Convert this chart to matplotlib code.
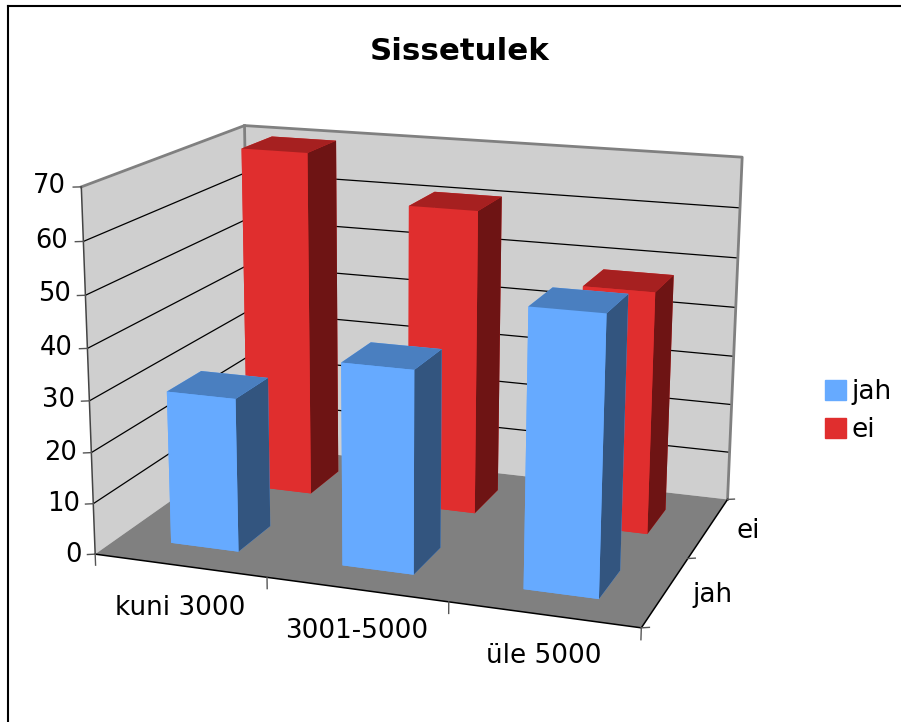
import numpy as np
import matplotlib
matplotlib.use("Agg")
import matplotlib.pyplot as plt
from matplotlib.patches import Patch
from mpl_toolkits.mplot3d.art3d import Poly3DCollection

categories = ["kuni 3000", "3001-5000", "üle 5000"]
series = ["jah", "ei"]
jah = [30, 39, 52.5]
ei = [70, 61, 48]
z_ticks = [0, 10, 20, 30, 40, 50, 60, 70]

W, H = 901, 722
fig = plt.figure(figsize=(W/100, H/100), dpi=100)

# camera fitted to the corners of the walls
ax = fig.add_axes([43.90/W, -10.41/H, 739.80/W, 739.80/H], projection="3d", computed_zorder=False)
ax.set_xlim(0, 3); ax.set_ylim(0, 2); ax.set_zlim(0, 70)
ax.view_init(15.2743, -70.6140, -0.2356)
ax.set_proj_type("persp", focal_length=0.5485)
ax.set_box_aspect((1.5021, 1.0260, 1))
ax.set_axis_off()

floor = [[(0,0,0),(3,0,0),(3,2,0),(0,2,0)]]
left = [[(0,0,0),(0,2,0),(0,2,70),(0,0,70)]]
back = [[(0,2,0),(3,2,0),(3,2,70),(0,2,70)]]
ax.add_collection3d(Poly3DCollection(left+back, facecolor="#cfcfcf", edgecolor="none", zorder=1))
ax.add_collection3d(Poly3DCollection(floor, facecolor="#808080", edgecolor="none", zorder=1))
for z in z_ticks[1:-1]:
    ax.plot([0,0,3],[0,2,2],[z,z,z], color="black", lw=0.9, zorder=2)
ax.plot([0,0,3,3],[0,2,2,2],[70,70,70,0], color="#808080", lw=2, zorder=2)
ax.plot([0,0],[2,2],[0,70], color="#808080", lw=2, zorder=2)
ax.plot([0,3,3],[0,0,2],[0,0,0], color="black", lw=1.1, zorder=3)
ax.plot([0,0],[0,0],[0,70], color="#444444", lw=1.1, zorder=3)
for z in z_ticks:
    ax.plot([0,-0.036],[0,-0.019],[z,z], color="#555555", lw=1, zorder=3)
for x in range(4):
    ax.plot([x,x],[0,0],[0,-2.2], color="#555555", lw=1, zorder=3)
for y in range(3):
    ax.plot([3,3.036],[y,y+0.019],[0,0], color="#555555", lw=1, zorder=3)

bw, bd = 0.40, 0.42
xs = np.arange(3) + 0.505 - bw/2
# faces: -z, +z, -y, +y, -x, +x
red = ["#e02e2e","#a62020","#e02e2e","#e02e2e","#e02e2e","#6e1414"]*3
blue = ["#66aaff","#4a7fc0","#66aaff","#66aaff","#66aaff","#33557f"]*3
ax.bar3d(xs, np.full(3, 1.29), np.zeros(3), bw, bd, ei, color=red, shade=False, zorder=4)
ax.bar3d(xs, np.full(3, 0.29), np.zeros(3), bw, bd, jah, color=blue, shade=False, zorder=5)

def px(x, y, s, **kw):
    fig.text(x/W, 1-y/H, s, ha=kw.pop("ha", "center"), va="center", fontsize=kw.pop("fontsize", 18.9), **kw)

px(460, 51, "Sissetulek", fontsize=22.2, fontweight="bold")
for z, x, y in zip(z_ticks, np.linspace(82, 66, 8), [555, 504, 453, 400, 348, 294, 241, 186]):
    px(x, y, str(z), ha="right", fontsize=18.5)
for c, (x, y) in zip(categories, [(180,608),(357,631),(544,656)]):
    px(x, y, c)
px(748, 531, "ei"); px(713, 595, "jah")

handles = [Patch(color="#66aaff", label="jah"), Patch(color="#e02e2e", label="ei")]
fig.legend(handles=handles, loc="center left", bbox_to_anchor=(825/W, 1-411/H), frameon=False,
           fontsize=19, handlelength=0.8, handleheight=0.8, handletextpad=0.2, labelspacing=0.45, borderpad=0, borderaxespad=0)

fig.add_artist(plt.Line2D([8/W, 8/W], [0, 1-6/H], color="black", lw=1.5))
fig.add_artist(plt.Line2D([8/W, 1], [1-6/H, 1-6/H], color="black", lw=1.5))
fig.savefig("out.png", dpi=100)
